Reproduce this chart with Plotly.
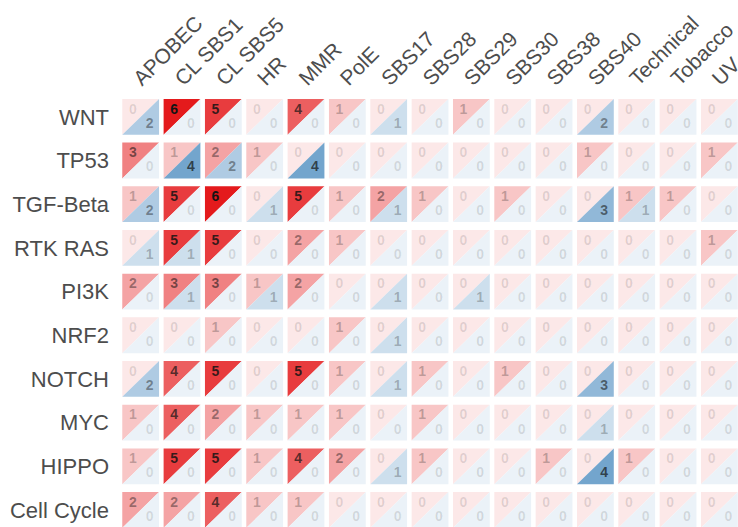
import plotly.graph_objects as go

columns = ["APOBEC", "CL SBS1", "CL SBS5", "HR", "MMR", "PolE", "SBS17", "SBS28",
           "SBS29", "SBS30", "SBS38", "SBS40", "Technical", "Tobacco", "UV"]
rows = ["WNT", "TP53", "TGF-Beta", "RTK RAS", "PI3K", "NRF2", "NOTCH", "MYC",
        "HIPPO", "Cell Cycle"]

# upper-left (red) values
red_values = [
    [0, 6, 5, 0, 4, 1, 0, 0, 1, 0, 0, 0, 0, 0, 0],
    [3, 1, 2, 1, 0, 0, 0, 0, 0, 0, 0, 1, 0, 0, 1],
    [1, 5, 6, 0, 5, 1, 2, 1, 0, 1, 0, 0, 1, 1, 0],
    [0, 5, 5, 0, 2, 1, 0, 0, 0, 0, 0, 0, 0, 0, 1],
    [2, 3, 3, 1, 2, 0, 0, 0, 0, 0, 0, 0, 0, 0, 0],
    [0, 0, 1, 0, 0, 1, 0, 0, 0, 0, 0, 0, 0, 0, 0],
    [0, 4, 5, 0, 5, 1, 0, 1, 0, 1, 0, 0, 0, 0, 0],
    [1, 4, 2, 1, 1, 1, 0, 1, 0, 0, 0, 0, 0, 0, 0],
    [1, 5, 5, 1, 4, 2, 0, 1, 0, 0, 1, 0, 1, 0, 0],
    [2, 2, 4, 1, 1, 0, 0, 0, 0, 0, 0, 0, 0, 0, 0],
]
# lower-right (blue) values
blue_values = [
    [2, 0, 0, 0, 0, 0, 1, 0, 0, 0, 0, 2, 0, 0, 0],
    [0, 4, 2, 0, 4, 0, 0, 0, 0, 0, 0, 0, 0, 0, 0],
    [2, 0, 0, 1, 0, 0, 1, 0, 0, 0, 0, 3, 1, 0, 0],
    [1, 1, 0, 0, 0, 0, 0, 0, 0, 0, 0, 0, 0, 0, 0],
    [0, 1, 0, 1, 0, 0, 1, 0, 1, 0, 0, 0, 0, 0, 0],
    [0, 0, 0, 0, 0, 0, 1, 0, 0, 0, 0, 0, 0, 0, 0],
    [2, 0, 0, 0, 0, 0, 1, 0, 0, 0, 0, 3, 0, 0, 0],
    [0, 0, 0, 0, 0, 0, 0, 0, 0, 0, 0, 1, 0, 0, 0],
    [0, 0, 0, 0, 0, 0, 1, 0, 0, 0, 0, 4, 0, 0, 0],
    [0, 0, 0, 0, 0, 0, 0, 0, 0, 0, 0, 0, 0, 0, 0],
]

VMAX = 6
RED = (228, 26, 28)
BLUE = (55, 126, 184)
HW, HH = 0.445, 0.41  # half width / height of a cell in axis units
FONT = "Liberation Sans, Arial, sans-serif"


def blend(rgb, v):
    a = 0.1 + 0.9 * v / VMAX
    r, g, b = (round(255 - a * (255 - c)) for c in rgb)
    return f"rgb({r},{g},{b})"


def text_color(v):
    a = 0.13 + 0.87 * v / VMAX
    return f"rgba(20,20,20,{a:.3f})"


fig = go.Figure()

for values, rgb, upper in ((red_values, RED, True), (blue_values, BLUE, False)):
    levels = sorted({v for row in values for v in row})
    for lev in levels:
        xs, ys = [], []
        for j, row in enumerate(values):
            for i, v in enumerate(row):
                if v != lev:
                    continue
                l, r, t, b = i - HW, i + HW, j - HH, j + HH
                if upper:
                    xs += [l, r, l, l, None]
                    ys += [t, t, b, t, None]
                else:
                    xs += [r, r, l, r, None]
                    ys += [t, b, b, t, None]
        fig.add_trace(go.Scatter(
            x=xs, y=ys, mode="lines", fill="toself",
            fillcolor=blend(rgb, lev), line=dict(width=0),
            hoverinfo="skip", showlegend=False))

for values, dx, dy in ((red_values, -0.19, -0.155), (blue_values, 0.215, 0.17)):
    tx, ty, tt, tc = [], [], [], []
    for j, row in enumerate(values):
        for i, v in enumerate(row):
            tx.append(i + dx)
            ty.append(j + dy)
            tt.append(str(v))
            tc.append(text_color(v))
    fig.add_trace(go.Scatter(
        x=tx, y=ty, text=tt, mode="text",
        textfont=dict(family=FONT, size=14, color=tc, weight="bold"),
        hoverinfo="skip", showlegend=False, cliponaxis=False))

fig.update_layout(
    width=738, height=527,
    margin=dict(l=120, r=0, t=95, b=0, autoexpand=False),
    paper_bgcolor="white", plot_bgcolor="white",
    font=dict(family=FONT, color="#4d4d4d", size=22),
)
fig.update_xaxes(
    side="top", range=[-0.5, 14.45], tickmode="array",
    tickvals=list(range(len(columns))), ticktext=columns, tickangle=-45,
    showgrid=False, zeroline=False, showline=False, ticks="",
    automargin=False, ticklabelshift=-6, ticklabeloverflow="allow",
    tickfont=dict(family=FONT, size=21, color="#4d4d4d"),
)
fig.update_yaxes(
    range=[9.39, -0.5], tickmode="array",
    tickvals=list(range(len(rows))), ticktext=rows,
    showgrid=False, zeroline=False, showline=False, ticks="",
    automargin=False, ticklabelstandoff=10, ticklabeloverflow="allow",
    tickfont=dict(family=FONT, size=22, color="#4d4d4d"),
)

fig.write_html(
    "out.html",
    config={"displayModeBar": False},
    post_script="document.body.style.margin='0';document.body.style.overflow='hidden';",
)
